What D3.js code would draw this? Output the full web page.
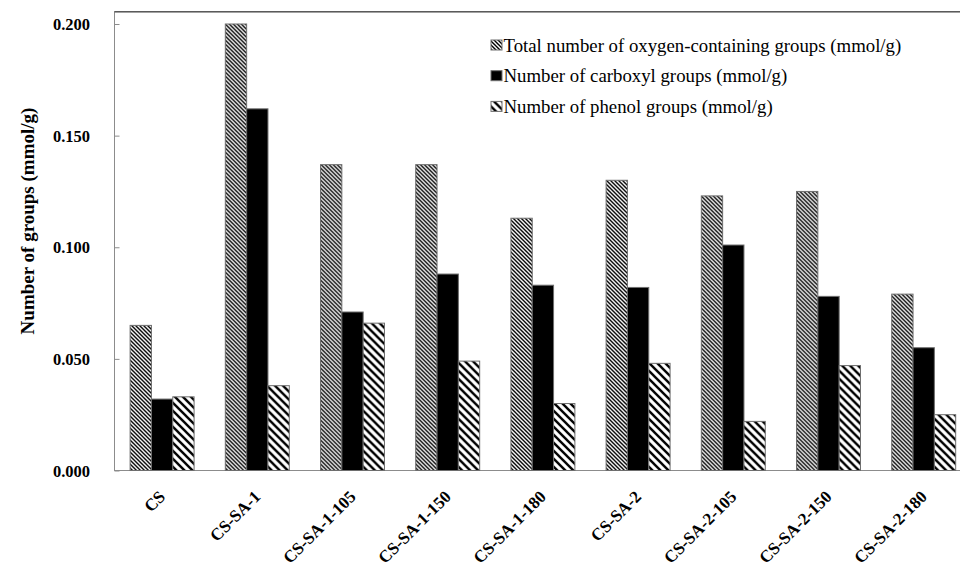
<!DOCTYPE html>
<html>
<head>
<meta charset="utf-8">
<script src="https://cdn.jsdelivr.net/npm/d3@7/dist/d3.min.js"></script>
<style>
  html, body { margin: 0; padding: 0; background: #fff; }
  svg { display: block; }
  text { font-family: "Liberation Serif", "Times New Roman", serif; fill: #000; }
</style>
</head>
<body>
<svg id="chart" width="960" height="566"></svg>
<script>
// Samples
const categories = ["CS", "CS-SA-1", "CS-SA-1-105", "CS-SA-1-150", "CS-SA-1-180",
                    "CS-SA-2", "CS-SA-2-105", "CS-SA-2-150", "CS-SA-2-180"];

// Group contents, mmol/g
const totalGroups    = [0.065, 0.200, 0.137, 0.137, 0.113, 0.130, 0.123, 0.125, 0.079];
const carboxylGroups = [0.032, 0.162, 0.071, 0.088, 0.083, 0.082, 0.101, 0.078, 0.055];
const phenolGroups   = [0.033, 0.038, 0.066, 0.049, 0.030, 0.048, 0.022, 0.047, 0.025];

const seriesNames = [
  "Total number of oxygen-containing groups (mmol/g)",
  "Number of carboxyl groups (mmol/g)",
  "Number of phenol groups (mmol/g)"
];
const yTicks = [0, 0.05, 0.10, 0.15, 0.20];
const yTitle = "Number of groups (mmol/g)";

const series = [
  { name: seriesNames[0], values: totalGroups,    fill: "url(#hatchDense)" },
  { name: seriesNames[1], values: carboxylGroups, fill: "#000" },
  { name: seriesNames[2], values: phenolGroups,   fill: "url(#hatchWide)" }
];

const svg = d3.select("#chart");

// Plot area (right side runs past the canvas edge)
const plot = { left: 114.5, top: 11.7, bottom: 470.5, right: 114.5 + 9 * 95.2 };

// Hatch fills
const defs = svg.append("defs");
const dense = defs.append("pattern")
  .attr("id", "hatchDense").attr("patternUnits", "userSpaceOnUse")
  .attr("width", 4).attr("height", 4);
dense.append("rect").attr("width", 4).attr("height", 4).attr("fill", "#fff");
dense.append("path").attr("d", "M-1,-1L5,5M-1,3L1,5M3,-1L5,1")
  .attr("stroke", "#000").attr("stroke-width", 1.4);

const wide = defs.append("pattern")
  .attr("id", "hatchWide").attr("patternUnits", "userSpaceOnUse")
  .attr("width", 8).attr("height", 8);
wide.append("rect").attr("width", 8).attr("height", 8).attr("fill", "#fff");
wide.append("path").attr("d", "M-2,-2L10,10M-2,6L2,10M6,-2L10,2")
  .attr("stroke", "#000").attr("stroke-width", 2.4);

// Scales
const y = d3.scaleLinear().domain([0, 0.2]).range([plot.bottom, 24]);
const x0 = d3.scaleBand().domain(categories)
  .range([plot.left, plot.right]).paddingInner(0.328).paddingOuter(0.164);
const x1 = d3.scaleBand().domain(d3.range(series.length))
  .range([0, x0.bandwidth()]).padding(0);

// Plot frame
svg.append("rect")
  .attr("x", plot.left).attr("y", plot.top)
  .attr("width", plot.right - plot.left).attr("height", plot.bottom - plot.top)
  .attr("fill", "none").attr("stroke", "#8c8c8c").attr("stroke-width", 1);
svg.append("line")
  .attr("x1", plot.left).attr("x2", plot.right)
  .attr("y1", plot.top).attr("y2", plot.top)
  .attr("stroke", "#5a5a5a").attr("stroke-width", 1.6);

// Bars
const groups = svg.append("g").selectAll("g")
  .data(categories).join("g")
  .attr("transform", d => `translate(${x0(d)},0)`);

groups.selectAll("rect")
  .data((d, i) => series.map((s, k) => ({ k, v: s.values[i], fill: s.fill })))
  .join("rect")
  .attr("x", d => x1(d.k))
  .attr("y", d => y(d.v))
  .attr("width", x1.bandwidth())
  .attr("height", d => y(0) - y(d.v))
  .attr("fill", d => d.fill)
  .attr("stroke", "#6e6e6e").attr("stroke-width", 1);

// Y axis (ticks pointing inward)
const yAxis = svg.append("g")
  .attr("transform", `translate(${plot.left},0)`)
  .call(d3.axisRight(y).tickValues(yTicks).tickSize(5).tickFormat(d3.format(".3f")));
yAxis.select(".domain").remove();
yAxis.selectAll(".tick line").attr("stroke", "#8c8c8c");
yAxis.selectAll(".tick text")
  .attr("x", -24.5).attr("text-anchor", "end")
  .attr("dy", "0.34em")
  .style("font-family", '"Liberation Serif", "Times New Roman", serif')
  .style("font-size", "16.5px").style("font-weight", "bold");

// X axis labels, rotated
const xAxis = svg.append("g")
  .attr("transform", `translate(0,${plot.bottom})`)
  .call(d3.axisBottom(x0).tickSize(0).tickPadding(0));
xAxis.select(".domain").remove();
xAxis.selectAll(".tick text")
  .attr("text-anchor", "end")
  .attr("y", 0)
  .attr("transform", "translate(0,23) rotate(-45)")
  .attr("dy", "0.35em")
  .style("font-family", '"Liberation Serif", "Times New Roman", serif')
  .style("font-size", "17px").style("font-weight", "bold");

// Y title
svg.append("text")
  .attr("transform", "translate(27,221) rotate(-90)")
  .attr("text-anchor", "middle").attr("dy", "0.35em")
  .style("font-size", "19px").style("font-weight", "bold")
  .text(yTitle);

// Legend
const legend = svg.append("g").attr("transform", "translate(491,45)");
const rows = legend.selectAll("g").data(series).join("g")
  .attr("transform", (d, i) => `translate(0,${i * 30.7})`);
rows.append("rect")
  .attr("x", 0).attr("y", -5).attr("width", 11).attr("height", 10)
  .attr("fill", d => d.fill).attr("stroke", "#6e6e6e").attr("stroke-width", 1);
rows.append("text")
  .attr("x", 12.5).attr("dy", "0.35em")
  .style("font-size", "18.8px")
  .text(d => d.name);
</script>
</body>
</html>
